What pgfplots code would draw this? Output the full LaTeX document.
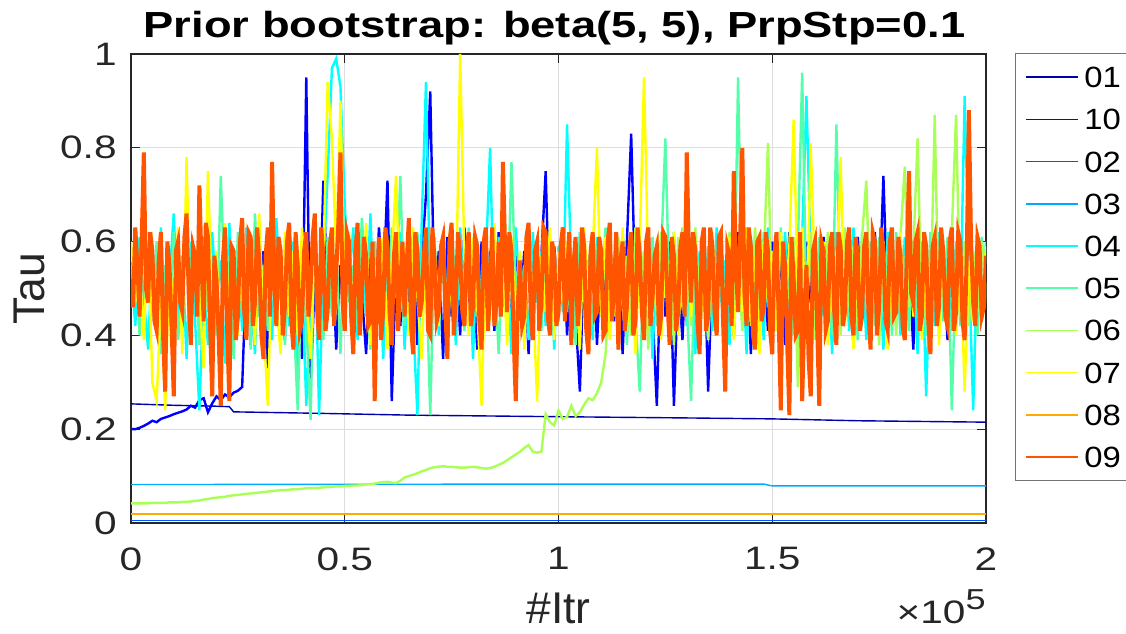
\documentclass[border=0pt]{standalone}
\usepackage{fontspec}
\setmainfont{Liberation Sans}
\newfontfamily\widefont{Liberation Sans}[FakeStretch=1.25]
\newfontfamily\legfont{Liberation Sans}[FakeStretch=1.12]
\usepackage{pgfplots}
\usepackage{pgfplotstable}
\pgfplotsset{compat=1.18}

% jet(10) colour order
\definecolor{c01}{rgb}{0,0,0.6667}
\definecolor{c10}{rgb}{0,0,1}
\definecolor{c02}{rgb}{0,0.3333,1}
\definecolor{c03}{rgb}{0,0.6667,1}
\definecolor{c04}{rgb}{0,1,1}
\definecolor{c05}{rgb}{0.3333,1,0.6667}
\definecolor{c06}{rgb}{0.6667,1,0.3333}
\definecolor{c07}{rgb}{1,1,0}
\definecolor{c08}{rgb}{1,0.6667,0}
\definecolor{c09}{rgb}{1,0.3333,0}
\definecolor{axgray}{HTML}{262626}

% chains 10, 04, 05, 06, 07 (iteration in thousands)
\pgfplotstableread{
x b c a g y
0 0.200 0.55 0.46 0.042 0.60
1 0.200 0.42 0.58 0.042 0.47
2 0.203 0.61 0.40 0.042 0.55
3 0.207 0.48 0.63 0.042 0.39
4 0.212 0.37 0.51 0.042 0.62
5 0.218 0.59 0.44 0.043 0.30
6 0.215 0.45 0.60 0.043 0.26
7 0.222 0.63 0.36 0.043 0.48
8 0.225 0.40 0.55 0.043 0.24
9 0.228 0.52 0.42 0.044 0.57
10 0.232 0.66 0.62 0.044 0.45
11 0.235 0.44 0.39 0.044 0.63
12 0.238 0.57 0.50 0.045 0.36
13 0.242 0.35 0.64 0.045 0.78
14 0.250 0.60 0.47 0.046 0.41
15 0.246 0.43 0.56 0.047 0.59
16 0.262 0.24 0.38 0.048 0.49
17 0.266 0.51 0.61 0.050 0.33
18 0.236 0.38 0.45 0.051 0.75
19 0.255 0.62 0.53 0.053 0.46
20 0.270 0.47 0.40 0.054 0.58
21 0.262 0.56 0.74 0.055 0.37
22 0.274 0.34 0.49 0.056 0.64
23 0.268 0.64 0.57 0.058 0.43
24 0.278 0.46 0.35 0.059 0.55
25 0.282 0.58 0.62 0.060 0.40
26 0.29 0.41 0.48 0.061 0.61
27 0.55 0.63 0.59 0.062 0.45
28 0.38 0.50 0.37 0.063 0.53
29 0.62 0.36 0.66 0.064 0.38
30 0.47 0.61 0.44 0.065 0.66
31 0.58 0.45 0.55 0.066 0.42
32 0.33 0.57 0.41 0.067 0.25
33 0.61 0.39 0.63 0.068 0.57
34 0.44 0.65 0.46 0.069 0.47
35 0.53 0.48 0.58 0.070 0.36
36 0.39 0.56 0.38 0.070 0.62
37 0.64 0.42 0.60 0.071 0.44
38 0.46 0.60 0.45 0.072 0.58
39 0.57 0.30 0.24 0.072 0.40
40 0.35 0.53 0.57 0.073 0.63
41 0.95 0.25 0.43 0.074 0.49
42 0.29 0.46 0.22 0.074 0.35
43 0.52 0.62 0.64 0.075 0.60
44 0.41 0.23 0.48 0.075 0.46
45 0.73 0.55 0.39 0.076 0.56
46 0.48 0.74 0.61 0.077 0.94
47 0.60 0.97 0.44 0.077 0.82
48 0.37 0.99 0.59 0.078 0.57
49 0.55 0.93 0.36 0.078 0.90
50 0.45 0.68 0.62 0.079 0.49
51 0.58 0.51 0.47 0.079 0.62
52 0.40 0.63 0.55 0.080 0.41
53 0.62 0.39 0.42 0.080 0.58
54 0.49 0.57 0.65 0.081 0.46
55 0.36 0.44 0.51 0.082 0.64
56 0.57 0.66 0.37 0.083 0.38
57 0.44 0.41 0.60 0.084 0.55
58 0.63 0.58 0.46 0.086 0.43
59 0.50 0.35 0.56 0.087 0.61
60 0.73 0.60 0.40 0.088 0.37
61 0.26 0.45 0.63 0.086 0.56
62 0.55 0.53 0.48 0.085 0.74
63 0.42 0.62 0.74 0.090 0.45
64 0.59 0.37 0.42 0.097 0.59
65 0.47 0.56 0.58 0.100 0.40
66 0.61 0.43 0.39 0.103 0.63
67 0.38 0.23 0.62 0.106 0.48
68 0.56 0.64 0.47 0.110 0.35
69 0.70 0.94 0.55 0.113 0.60
70 0.92 0.48 0.23 0.117 0.44
71 0.46 0.57 0.61 0.119 0.57
72 0.58 0.40 0.44 0.120 0.42
73 0.35 0.61 0.57 0.121 0.62
74 0.61 0.46 0.38 0.120 0.38
75 0.44 0.55 0.64 0.120 0.56
76 0.57 0.38 0.49 0.119 0.47
77 0.40 0.63 0.56 0.118 1.00
78 0.63 0.47 0.41 0.118 0.56
79 0.49 0.59 0.63 0.119 0.40
80 0.55 0.35 0.45 0.120 0.61
81 0.37 0.60 0.58 0.119 0.46
82 0.60 0.45 0.40 0.117 0.25
83 0.46 0.56 0.62 0.116 0.58
84 0.58 0.80 0.47 0.117 0.43
85 0.41 0.42 0.55 0.120 0.64
86 0.62 0.61 0.36 0.124 0.47
87 0.47 0.46 0.59 0.128 0.55
88 0.56 0.58 0.44 0.134 0.38
89 0.39 0.36 0.77 0.140 0.61
90 0.61 0.63 0.49 0.146 0.44
91 0.45 0.48 0.57 0.152 0.58
92 0.58 0.55 0.39 0.160 0.37
93 0.36 0.39 0.63 0.166 0.62
94 0.60 0.62 0.46 0.152 0.49
95 0.48 0.47 0.58 0.150 0.26
96 0.57 0.58 0.41 0.152 0.57
97 0.75 0.42 0.60 0.232 0.45
98 0.42 0.60 0.48 0.215 0.63
99 0.59 0.37 0.56 0.208 0.39
100 0.46 0.59 0.43 0.240 0.58
101 0.63 0.45 0.61 0.222 0.47
102 0.40 0.85 0.45 0.226 0.60
103 0.56 0.53 0.57 0.250 0.42
104 0.44 0.41 0.38 0.228 0.56
105 0.28 0.62 0.62 0.236 0.37
106 0.59 0.47 0.49 0.252 0.63
107 0.45 0.56 0.55 0.266 0.48
108 0.61 0.39 0.42 0.262 0.58
109 0.38 0.61 0.59 0.277 0.80
110 0.57 0.44 0.46 0.300 0.44
111 0.47 0.59 0.63 0.36 0.61
112 0.62 0.46 0.40 0.52 0.39
113 0.43 0.55 0.57 0.44 0.57
114 0.55 0.37 0.45 0.61 0.46
115 0.36 0.62 0.60 0.47 0.63
116 0.60 0.49 0.38 0.57 0.41
117 0.83 0.56 0.56 0.40 0.55
118 0.48 0.40 0.44 0.63 0.36
119 0.57 0.61 0.28 0.49 0.59
120 0.41 0.45 0.58 0.58 0.95
121 0.63 0.57 0.47 0.37 0.54
122 0.45 0.35 0.61 0.55 0.44
123 0.25 0.60 0.42 0.45 0.61
124 0.58 0.47 0.57 0.62 0.39
125 0.44 0.58 0.82 0.48 0.57
126 0.60 0.39 0.46 0.56 0.45
127 0.25 0.62 0.59 0.38 0.62
128 0.53 0.46 0.41 0.61 0.40
129 0.39 0.55 0.63 0.46 0.58
130 0.61 0.42 0.47 0.57 0.73
131 0.46 0.60 0.26 0.42 0.44
132 0.58 0.36 0.58 0.63 0.60
133 0.37 0.58 0.45 0.47 0.38
134 0.62 0.45 0.61 0.55 0.55
135 0.28 0.59 0.39 0.39 0.46
136 0.55 0.41 0.57 0.61 0.62
137 0.42 0.63 0.48 0.45 0.41
138 0.60 0.47 0.62 0.58 0.57
139 0.47 0.56 0.44 0.37 0.44
140 0.57 0.38 0.57 0.62 0.61
141 0.40 0.60 0.40 0.48 0.39
142 0.62 0.45 0.95 0.57 0.58
143 0.45 0.57 0.47 0.41 0.45
144 0.58 0.36 0.60 0.59 0.63
145 0.36 0.61 0.43 0.46 0.42
146 0.61 0.48 0.56 0.63 0.57
147 0.48 0.55 0.38 0.44 0.36
148 0.56 0.39 0.62 0.56 0.60
149 0.41 0.63 0.46 0.81 0.47
150 0.60 0.46 0.58 0.42 0.58
151 0.46 0.58 0.41 0.60 0.41
152 0.57 0.40 0.63 0.38 0.62
153 0.38 0.62 0.47 0.55 0.45
154 0.62 0.45 0.56 0.47 0.59
155 0.45 0.56 0.40 0.61 0.86
156 0.58 0.38 0.59 0.29 0.48
157 0.43 0.61 0.96 0.57 0.63
158 0.60 0.91 0.45 0.44 0.40
159 0.47 0.56 0.58 0.62 0.81
160 0.56 0.40 0.43 0.39 0.52
161 0.39 0.59 0.61 0.56 0.44
162 0.61 0.44 0.47 0.47 0.60
163 0.45 0.57 0.57 0.62 0.38
164 0.58 0.36 0.40 0.45 0.57
165 0.42 0.62 0.85 0.58 0.45
166 0.60 0.47 0.47 0.40 0.78
167 0.47 0.58 0.60 0.63 0.42
168 0.55 0.41 0.44 0.46 0.61
169 0.38 0.63 0.57 0.59 0.37
170 0.61 0.45 0.39 0.42 0.59
171 0.46 0.57 0.62 0.61 0.46
172 0.58 0.39 0.46 0.73 0.62
173 0.40 0.60 0.59 0.44 0.40
174 0.62 0.48 0.42 0.58 0.57
175 0.47 0.55 0.61 0.38 0.45
176 0.74 0.37 0.45 0.60 0.60
177 0.45 0.62 0.58 0.45 0.37
178 0.59 0.46 0.40 0.57 0.58
179 0.42 0.58 0.62 0.40 0.46
180 0.60 0.40 0.47 0.61 0.62
181 0.48 0.61 0.57 0.76 0.41
182 0.56 0.45 0.41 0.46 0.59
183 0.37 0.57 0.60 0.58 0.44
184 0.61 0.36 0.45 0.82 0.62
185 0.46 0.60 0.58 0.43 0.39
186 0.58 0.27 0.40 0.60 0.57
187 0.41 0.56 0.62 0.45 0.45
188 0.60 0.42 0.46 0.87 0.61
189 0.47 0.62 0.58 0.41 0.38
190 0.55 0.46 0.43 0.59 0.58
191 0.39 0.58 0.61 0.46 0.44
192 0.62 0.41 0.24 0.62 0.61
193 0.46 0.60 0.57 0.87 0.40
194 0.57 0.45 0.42 0.44 0.58
195 0.41 0.91 0.60 0.60 0.28
196 0.60 0.55 0.46 0.42 0.56
197 0.45 0.24 0.58 0.58 0.43
198 0.57 0.58 0.40 0.45 0.62
199 0.43 0.46 0.61 0.60 0.46
200 0.58 0.60 0.47 0.48 0.59
}\noisy

\newcommand\tickfont{\widefont\fontsize{16.3}{16.3}\selectfont}

\begin{document}
\begin{tikzpicture}
\begin{axis}[
  scale only axis,
  width=427.5bp, height=234.5bp,
  xmin=0, xmax=200, ymin=0, ymax=1,
  xtick={0,50,100,150,200},
  xticklabels={0,0.5,1,1.5,2},
  ytick={0,0.2,0.4,0.6,0.8,1},
  yticklabels={0,0.2,0.4,0.6,0.8,1},
  tick align=inside,
  major tick length=4.3bp,
  grid=major,
  major grid style={draw=black!13, line width=0.5bp},
  axis line style={draw=axgray, line width=0.6bp},
  every tick/.style={draw=axgray, line width=0.6bp},
  ticklabel style={font=\tickfont, text=axgray},
  xticklabel style={inner sep=0pt, anchor=north, yshift=-12bp},
  yticklabel style={inner sep=0pt, anchor=east, xshift=-7bp},
  title={Prior bootstrap: beta(5, 5), PrpStp=0.1},
  title style={font=\widefont\bfseries\fontsize{18.2}{18.2}\selectfont,
    at={(axis description cs:0.5,1)}, anchor=base, yshift=2.5bp, xshift=-2bp, inner sep=0pt},
  xlabel={\#Itr},
  xlabel style={font=\fontsize{22.3}{22.3}\selectfont, text=axgray,
    at={(axis description cs:0.5,0)}, anchor=base, yshift=-50bp, inner sep=0pt},
  ylabel={Tau},
  ylabel style={font=\fontsize{22.3}{22.3}\selectfont, text=axgray,
    at={(axis description cs:-0.1006,0.5)}, anchor=base, rotate=0, inner sep=0pt},
  legend entries={01,10,02,03,04,05,06,07,08,09},
  legend cell align=left,
  legend image code/.code={\draw[#1, line width=0.8bp] (0bp,0bp) -- (26bp,0bp);},
  legend style={at={(axis description cs:1.034,1.002)}, anchor=north west,
    draw=black!55, line width=0.6bp, fill=white,
    font=\legfont\fontsize{14.7}{14.7}\selectfont,
    inner xsep=5bp, inner ysep=6.5bp, row sep=10.6bp, column sep=2.5bp,
    nodes={inner sep=0pt, text height=10.5bp, text depth=0pt}},
]
% chain 01
\addplot[c01, line width=0.7bp] coordinates {
(0,0.254)(10,0.251)(20,0.249)(23,0.248)(24,0.237)(43,0.234)(65,0.230)
(96,0.227)(130,0.224)(150,0.222)(170,0.218)(200,0.215)};
% chain 10
\addplot[c10, line width=1.2bp] table[x=x, y=b] {\noisy};
% chain 02
\addplot[c02, line width=0.7bp] coordinates {(0,0.005)(200,0.005)};
% chain 03
\addplot[c03, line width=0.7bp] coordinates {
(0,0.082)(100,0.083)(148,0.083)(150,0.079)(200,0.079)};
% chain 04
\addplot[c04, line width=1.2bp] table[x=x, y=c] {\noisy};
% chain 05
\addplot[c05, line width=1.2bp] table[x=x, y=a] {\noisy};
% chain 06
\addplot[c06, line width=1.2bp] table[x=x, y=g] {\noisy};
% chain 07
\addplot[c07, line width=1.2bp] table[x=x, y=y] {\noisy};
% chain 08
\addplot[c08, line width=0.7bp] coordinates {(0,0.019)(200,0.019)};
% chain 09
\addplot[c09, line width=2bp] coordinates {
(0,0.52)(0.5,0.46)(1,0.63)(1.5,0.55)(2,0.44)(2.5,0.60)(3,0.79)(3.5,0.50)(4,0.47)(4.5,0.62)
(5,0.58)(5.5,0.43)(6,0.41)(6.5,0.56)(7,0.62)(7.5,0.40)(8,0.28)(8.5,0.60)(9,0.55)(9.5,0.42)
(10,0.27)(10.5,0.58)(11,0.60)(11.5,0.47)(12,0.45)(12.5,0.61)(13,0.66)(13.5,0.49)(14,0.38)(14.5,0.59)
(15,0.57)(15.5,0.44)(16,0.72)(16.5,0.55)(17,0.43)(17.5,0.64)(18,0.61)(18.5,0.42)(19,0.27)(19.5,0.57)
(20,0.52)(20.5,0.40)(21,0.25)(21.5,0.56)(22,0.63)(22.5,0.41)(23,0.26)(23.5,0.59)(24,0.58)(24.5,0.39)
(25,0.44)(25.5,0.60)(26,0.65)(26.5,0.45)(27,0.39)(27.5,0.62)(28,0.61)(28.5,0.42)(29,0.47)(29.5,0.63)
(30,0.56)(30.5,0.40)(31,0.35)(31.5,0.57)(32,0.63)(32.5,0.44)(33,0.77)(33.5,0.52)(34,0.42)(34.5,0.61)
(35,0.58)(35.5,0.40)(36,0.46)(36.5,0.60)(37,0.64)(37.5,0.43)(38,0.37)(38.5,0.62)(39,0.55)(39.5,0.41)
(40,0.43)(40.5,0.58)(41,0.62)(41.5,0.44)(42,0.50)(42.5,0.61)(43,0.66)(43.5,0.46)(44,0.39)(44.5,0.63)
(45,0.57)(45.5,0.41)(46,0.45)(46.5,0.59)(47,0.63)(47.5,0.42)(48,0.53)(48.5,0.64)(49,0.79)(49.5,0.47)
(50,0.41)(50.5,0.62)(51,0.60)(51.5,0.44)(52,0.36)(52.5,0.58)(53,0.64)(53.5,0.40)(54,0.48)(54.5,0.61)
(55,0.57)(55.5,0.42)(56,0.43)(56.5,0.60)(57,0.26)(57.5,0.48)(58,0.61)(58.5,0.39)(59,0.45)(59.5,0.63)
(60,0.59)(60.5,0.45)(61,0.38)(61.5,0.57)(62,0.62)(62.5,0.41)(63,0.51)(63.5,0.60)(64,0.44)(64.5,0.55)
(65,0.65)(65.5,0.42)(66,0.36)(66.5,0.62)(67,0.58)(67.5,0.44)(68,0.47)(68.5,0.57)(69,0.63)(69.5,0.41)
(70,0.40)(70.5,0.63)(71,0.56)(71.5,0.43)(72,0.45)(72.5,0.59)(73,0.61)(73.5,0.46)(74,0.35)(74.5,0.60)
(75,0.64)(75.5,0.40)(76,0.48)(76.5,0.62)(77,0.57)(77.5,0.45)(78,0.42)(78.5,0.58)(79,0.62)(79.5,0.42)
(80,0.46)(80.5,0.61)(81,0.59)(81.5,0.43)(82,0.37)(82.5,0.60)(83,0.63)(83.5,0.41)(84,0.50)(84.5,0.63)
(85,0.42)(85.5,0.47)(86,0.60)(86.5,0.44)(87,0.77)(87.5,0.59)(88,0.45)(88.5,0.62)(89,0.58)(89.5,0.40)
(90,0.26)(90.5,0.47)(91,0.56)(91.5,0.42)(92,0.44)(92.5,0.61)(93,0.64)(93.5,0.45)(94,0.39)(94.5,0.58)
(95,0.60)(95.5,0.41)(96,0.47)(96.5,0.63)(97,0.62)(97.5,0.44)(98,0.40)(98.5,0.60)(99,0.57)(99.5,0.42)
(100,0.45)(100.5,0.59)(101,0.63)(101.5,0.43)(102,0.52)(102.5,0.62)(103,0.38)(103.5,0.55)(104,0.61)(104.5,0.42)
(105,0.48)(105.5,0.63)(106,0.59)(106.5,0.41)(107,0.36)(107.5,0.58)(108,0.62)(108.5,0.44)(109,0.45)(109.5,0.61)
(110,0.58)(110.5,0.40)(111,0.41)(111.5,0.60)(112,0.64)(112.5,0.43)(113,0.50)(113.5,0.62)(114,0.37)(114.5,0.56)
(115,0.60)(115.5,0.41)(116,0.46)(116.5,0.58)(117,0.62)(117.5,0.40)(118,0.43)(118.5,0.63)(119,0.57)(119.5,0.45)
(120,0.39)(120.5,0.60)(121,0.63)(121.5,0.42)(122,0.48)(122.5,0.57)(123,0.59)(123.5,0.40)(124,0.44)(124.5,0.62)
(125,0.61)(125.5,0.47)(126,0.38)(126.5,0.61)(127,0.57)(127.5,0.41)(128,0.45)(128.5,0.59)(129,0.62)(129.5,0.44)
(130,0.79)(130.5,0.58)(131,0.47)(131.5,0.62)(132,0.58)(132.5,0.43)(133,0.36)(133.5,0.60)(134,0.63)(134.5,0.41)
(135,0.44)(135.5,0.63)(136,0.59)(136.5,0.45)(137,0.40)(137.5,0.61)(138,0.62)(138.5,0.43)(139,0.28)(139.5,0.59)
(140,0.57)(140.5,0.42)(141,0.75)(141.5,0.55)(142,0.45)(142.5,0.61)(143,0.80)(143.5,0.49)(144,0.42)(144.5,0.63)
(145,0.59)(145.5,0.40)(146,0.37)(146.5,0.60)(147,0.61)(147.5,0.43)(148,0.46)(148.5,0.62)(149,0.58)(149.5,0.41)
(150,0.36)(150.5,0.57)(151,0.62)(151.5,0.44)(152,0.24)(152.5,0.60)(153,0.55)(153.5,0.38)(154,0.23)(154.5,0.61)
(155,0.52)(155.5,0.40)(156,0.41)(156.5,0.62)(157,0.26)(157.5,0.44)(158,0.55)(158.5,0.35)(159,0.27)(159.5,0.58)
(160,0.60)(160.5,0.42)(161,0.25)(161.5,0.60)(162,0.58)(162.5,0.41)(163,0.43)(163.5,0.59)(164,0.62)(164.5,0.45)
(165,0.38)(165.5,0.62)(166,0.59)(166.5,0.42)(167,0.45)(167.5,0.60)(168,0.63)(168.5,0.44)(169,0.40)(169.5,0.61)
(170,0.57)(170.5,0.41)(171,0.44)(171.5,0.59)(172,0.62)(172.5,0.45)(173,0.37)(173.5,0.62)(174,0.60)(174.5,0.40)
(175,0.46)(175.5,0.63)(176,0.58)(176.5,0.43)(177,0.41)(177.5,0.60)(178,0.63)(178.5,0.44)(179,0.45)(179.5,0.61)
(180,0.57)(180.5,0.42)(181,0.39)(181.5,0.58)(182,0.75)(182.5,0.49)(183,0.47)(183.5,0.60)(184,0.62)(184.5,0.41)
(185,0.44)(185.5,0.62)(186,0.59)(186.5,0.43)(187,0.36)(187.5,0.59)(188,0.61)(188.5,0.42)(189,0.46)(189.5,0.63)
(190,0.58)(190.5,0.44)(191,0.42)(191.5,0.60)(192,0.63)(192.5,0.41)(193,0.45)(193.5,0.62)(194,0.60)(194.5,0.43)
(195,0.39)(195.5,0.57)(196,0.88)(196.5,0.60)(197,0.47)(197.5,0.42)(198,0.61)(198.5,0.59)(199,0.44)(199.5,0.46)
(200,0.57)};
\end{axis}
% axis exponent below the right end of the x axis
\node[anchor=base east, inner sep=0pt, font=\tickfont, text=axgray]
  at (427.5bp,-50bp) {×10\raisebox{6.7bp}{\widefont\fontsize{14.5}{14.5}\selectfont 5}};
\pgfresetboundingbox
\useasboundingbox (-65.5bp,-55.5bp) rectangle (497.5bp,261.5bp);
\end{tikzpicture}
\end{document}
